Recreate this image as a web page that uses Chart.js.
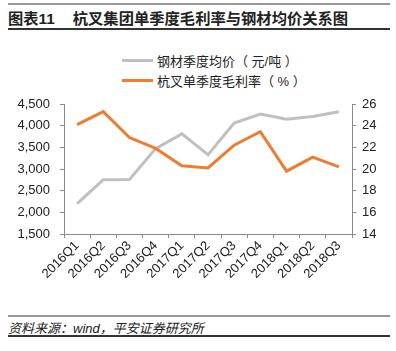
<!DOCTYPE html>
<html>
<head>
<meta charset="utf-8">
<script src="https://cdn.jsdelivr.net/npm/chart.js"></script>
<style>
  body { margin: 0; background: #fff; font-family: "Liberation Sans", "Noto Sans CJK SC", sans-serif; }
  #wrap { position: relative; width: 396px; height: 351px; overflow: hidden; }
  #chart { position: absolute; left: 0; top: 0; }
  .rule { position: absolute; left: 8px; width: 382px; }
  #title { position: absolute; left: 8px; top: 6px; font-size: 15.3px; font-weight: bold; color: #222; white-space: nowrap; }
  #title span { margin-left: 18px; }
  #legend { position: absolute; left: 122px; top: 50px; font-size: 13px; color: #222; }
  .item { height: 20px; display: flex; align-items: center; white-space: nowrap; }
  .swatch { width: 31px; height: 3px; margin-right: 4px; }
  #source { position: absolute; left: 8px; top: 318px; font-size: 13px; font-style: italic; color: #222; white-space: nowrap; }
</style>
</head>
<body>
<div id="wrap">
  <div class="rule" style="top:3px;height:2px;background:#999;"></div>
  <div id="title">图表11<span>杭叉集团单季度毛利率与钢材均价关系图</span></div>
  <div class="rule" style="top:28px;height:1.5px;background:#333;"></div>
  <div id="legend"></div>
  <canvas id="chart" width="396" height="300"></canvas>
  <div class="rule" style="top:315px;height:2px;background:#999;"></div>
  <div id="source">资料来源：wind，平安证券研究所</div>
  <div class="rule" style="top:335px;height:1.5px;background:#333;"></div>
</div>
<script>
const quarters = ['2016Q1', '2016Q2', '2016Q3', '2016Q4', '2017Q1', '2017Q2',
  '2017Q3', '2017Q4', '2018Q1', '2018Q2', '2018Q3'];
const steelPrice = [2200, 2750, 2760, 3470, 3810, 3330, 4060, 4270, 4150, 4210, 4320];
const grossMargin = [24.1, 25.3, 22.9, 21.9, 20.3, 20.1, 22.2, 23.45, 19.8, 21.1, 20.2];
const seriesNames = ['钢材季度均价（ 元/吨 ）', '杭叉单季度毛利率（ % ）'];
const seriesColors = ['#c0c0c0', '#ed7d31'];

const axisColor = '#8a8a8a';
const font = { family: '"Liberation Sans", Arial, sans-serif', size: 13 };

const legend = document.getElementById('legend');
seriesNames.forEach((name, i) => {
  const row = document.createElement('div');
  row.className = 'item';
  row.innerHTML = '<div class="swatch" style="background:' + seriesColors[i] + '"></div>' + name;
  legend.appendChild(row);
});

new Chart(document.getElementById('chart').getContext('2d'), {
  type: 'line',
  data: {
    labels: quarters,
    datasets: [{
      label: seriesNames[0],
      data: steelPrice,
      yAxisID: 'yL',
      borderColor: seriesColors[0],
      borderWidth: 3,
      pointRadius: 0,
      tension: 0,
      order: 1
    }, {
      label: seriesNames[1],
      data: grossMargin,
      yAxisID: 'yR',
      borderColor: seriesColors[1],
      borderWidth: 3,
      pointRadius: 0,
      tension: 0,
      order: 0
    }]
  },
  options: {
    responsive: false,
    animation: false,
    layout: { padding: { top: 104, left: 0, right: 0, bottom: 0 } },
    plugins: { legend: { display: false }, tooltip: { enabled: false } },
    scales: {
      x: {
        offset: true,
        grid: { display: true, drawOnChartArea: false, drawTicks: true, tickLength: 4, color: axisColor, offset: true },
        border: { color: axisColor, width: 1 },
        ticks: { color: '#222', font: font, minRotation: 45, maxRotation: 45, padding: 0, autoSkip: false },
        afterFit: s => { s.height = 66; }
      },
      yL: {
        position: 'left',
        min: 1500, max: 4500,
        grid: { drawOnChartArea: false, tickLength: 4, color: axisColor },
        border: { color: axisColor, width: 1 },
        ticks: { stepSize: 500, color: '#222', font: font, padding: 10,
          callback: v => v.toLocaleString('en-US') },
        afterFit: s => { s.width = 64; }
      },
      yR: {
        position: 'right',
        min: 14, max: 26,
        grid: { drawOnChartArea: false, tickLength: 4, color: axisColor },
        border: { color: axisColor, width: 1 },
        ticks: { stepSize: 2, color: '#222', font: font, padding: 6 },
        afterFit: s => { s.width = 44; }
      }
    }
  }
});
</script>
</body>
</html>
